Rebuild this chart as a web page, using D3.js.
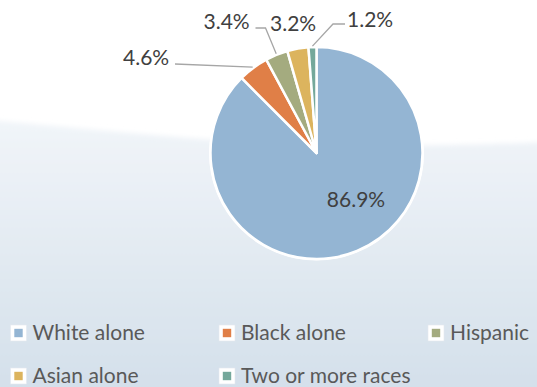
<!DOCTYPE html>
<html>
<head>
<meta charset="utf-8">
<script src="https://cdn.jsdelivr.net/npm/d3@7"></script>
<style>
  html, body { margin: 0; padding: 0; background: #ffffff; }
  svg { display: block; }
  text { font-family: Lato, "Open Sans", sans-serif; }
</style>
</head>
<body>
<svg id="chart" width="537" height="387"></svg>
<script>
// Population share by race / ethnicity (percent)
const categories = ["White alone", "Black alone", "Hispanic", "Asian alone", "Two or more races"];
const shares = [86.9, 4.6, 3.4, 3.2, 1.2];
const valueLabels = ["86.9%", "4.6%", "3.4%", "3.2%", "1.2%"];
const sliceColors = ["#94b5d3", "#e07f47", "#a4ab7f", "#dcb45e", "#74a89b"];

const W = 537, H = 387;
const svg = d3.select("#chart");

// ---- background: white top, soft blue wave toward the bottom ----
const defs = svg.append("defs");
const grad = defs.append("linearGradient")
  .attr("id", "bgGrad").attr("x1", 0).attr("y1", 0).attr("x2", 0).attr("y2", 1);
grad.append("stop").attr("offset", "0%").attr("stop-color", "#f1f5f9");
grad.append("stop").attr("offset", "40%").attr("stop-color", "#e5ecf3");
grad.append("stop").attr("offset", "100%").attr("stop-color", "#d3dfea");
defs.append("filter").attr("id", "soft")
  .attr("x", "-5%").attr("y", "-20%").attr("width", "110%").attr("height", "140%")
  .append("feGaussianBlur").attr("stdDeviation", 2.5);

const waveTop = d3.line().curve(d3.curveBasis)([
  [-10, 120], [120, 132], [220, 141], [330, 146], [430, 146], [547, 142]
]);
svg.append("rect").attr("width", W).attr("height", H).attr("fill", "#ffffff");
svg.append("path")
  .attr("d", waveTop + `L${W + 10},${H + 10}L-10,${H + 10}Z`)
  .attr("fill", "url(#bgGrad)")
  .attr("filter", "url(#soft)");

// ---- pie ----
const cx = 316.5, cy = 153, R = 106;
const pie = d3.pie().sort(null).value(d => d.value);
const arcs = pie(categories.map((c, i) => ({ name: c, value: shares[i], label: valueLabels[i], color: sliceColors[i] })));
const arc = d3.arc().innerRadius(0).outerRadius(R);
const edgeArc = d3.arc().innerRadius(R + 1).outerRadius(R + 1);

const g = svg.append("g").attr("transform", `translate(${cx},${cy})`);

// white rim behind the pie
g.append("circle").attr("r", R + 1.5).attr("fill", "#ffffff");

g.selectAll("path.slice")
  .data(arcs)
  .join("path")
  .attr("class", "slice")
  .attr("d", arc)
  .attr("fill", d => d.data.color)
  .attr("stroke", "#ffffff")
  .attr("stroke-width", 2.5)
  .attr("stroke-linejoin", "round");

// inside label for the large slice
const big = arcs[0];
g.append("text")
  .attr("x", 39.5)
  .attr("y", 54)
  .attr("text-anchor", "middle")
  .attr("font-size", 21)
  .attr("fill", "#404040")
  .text(big.data.label);

// outside labels with leader lines (offsets from the pie centre, label anchor = start)
const outside = [
  { i: 1, lx: -193.5, ly: -88, elbow: null, lineStart: [-141.5, -89] },
  { i: 2, lx: -113, ly: -124, elbow: [-51, -125], lineStart: [-61, -125] },
  { i: 3, lx: -46.5, ly: -122.5, elbow: null, lineStart: null },
  { i: 4, lx: 30.5, ly: -126.5, elbow: [16.5, -129], lineStart: [28.5, -129] }
];

outside.forEach(o => {
  const a = arcs[o.i];
  const p = edgeArc.centroid(a);
  if (o.lineStart) {
    const pts = [o.lineStart];
    if (o.elbow) pts.push(o.elbow);
    pts.push(p);
    g.append("path")
      .attr("d", d3.line()(pts))
      .attr("fill", "none")
      .attr("stroke", "#a6a6a6")
      .attr("stroke-width", 1.3);
  }
  g.append("text")
    .attr("x", o.lx)
    .attr("y", o.ly)
    .attr("font-size", 21)
    .attr("fill", "#404040")
    .text(a.data.label);
});

// ---- legend ----
const legendPos = [[10.5, 340], [219, 340], [428, 340], [10.5, 383], [219, 383]];
const lg = svg.append("g");
categories.forEach((c, i) => {
  const [x, y] = legendPos[i];
  const item = lg.append("g").attr("transform", `translate(${x},${y})`);
  item.append("rect")
    .attr("x", 0).attr("y", -15).attr("width", 16).attr("height", 16)
    .attr("fill", "#ffffff").attr("stroke", "#e3e8ee").attr("stroke-width", 0.6);
  item.append("rect")
    .attr("x", 3.8).attr("y", -11.2).attr("width", 8.4).attr("height", 8.4)
    .attr("fill", sliceColors[i]);
  item.append("text")
    .attr("x", 22)
    .attr("y", 0)
    .attr("font-size", 21)
    .attr("fill", "#595959")
    .text(c);
});
</script>
</body>
</html>
